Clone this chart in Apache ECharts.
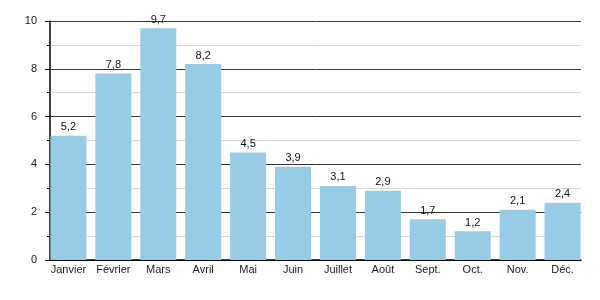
<!DOCTYPE html>
<html><head><meta charset="utf-8">
<script src="https://cdn.jsdelivr.net/npm/echarts@6/dist/echarts.min.js"></script>
<style>html,body{margin:0;padding:0;background:#fff}#c{width:600px;height:300px}</style>
</head><body><div id="c"></div>
<script>
const categories = ['Janvier','Février','Mars','Avril','Mai','Juin','Juillet','Août','Sept.','Oct.','Nov.','Déc.'];
const values = [5.2, 7.8, 9.7, 8.2, 4.5, 3.9, 3.1, 2.9, 1.7, 1.2, 2.1, 2.4];
const yTicks = [0, 2, 4, 6, 8, 10];
const yMin = yTicks[0], yMax = yTicks[yTicks.length - 1];

const chart = echarts.init(document.getElementById('c'));
chart.setOption({
  animation: false,
  textStyle: { fontFamily: 'Liberation Sans, Arial, sans-serif' },
  grid: [
    { left: 50, right: 19, top: 21, bottom: 40 },
    { left: 46, right: 15, top: 21, bottom: 40 }
  ],
  xAxis: [
    {
      gridIndex: 0, type: 'category', data: categories,
      axisLine: { lineStyle: { color: '#000', width: 1.5 } },
      axisTick: { show: false }, axisLabel: { show: false }, splitLine: { show: false }
    },
    {
      gridIndex: 1, type: 'category', data: categories,
      axisLine: { show: false }, axisTick: { show: false },
      axisLabel: { color: '#1a1a1a', fontSize: 11, margin: 4, interval: 0 }
    }
  ],
  yAxis: [
    {
      gridIndex: 0, type: 'value', min: yMin, max: yMax, interval: 2,
      axisLine: { show: true, lineStyle: { color: '#000', width: 1.5 } },
      axisTick: { show: true, length: 5, lineStyle: { color: '#000' } },
      minorTick: { show: true, splitNumber: 2, length: 3, lineStyle: { color: '#000' } },
      axisLabel: { color: '#1a1a1a', fontSize: 11, margin: 13 },
      splitLine: { lineStyle: { color: '#333', width: 1 } },
      minorSplitLine: { show: true, lineStyle: { color: '#d8d8d8', width: 1 } }
    },
    {
      gridIndex: 1, type: 'value', min: yMin, max: yMax, show: false,
      splitLine: { show: false }
    }
  ],
  series: [{
    type: 'bar', xAxisIndex: 1, yAxisIndex: 1, data: values, barWidth: 36,
    itemStyle: { color: '#97cbe6' },
    label: {
      show: true, position: 'top', distance: 3, color: '#111', fontSize: 11,
      formatter: p => String(p.value).replace('.', ',')
    }
  }]
});
</script></body></html>
